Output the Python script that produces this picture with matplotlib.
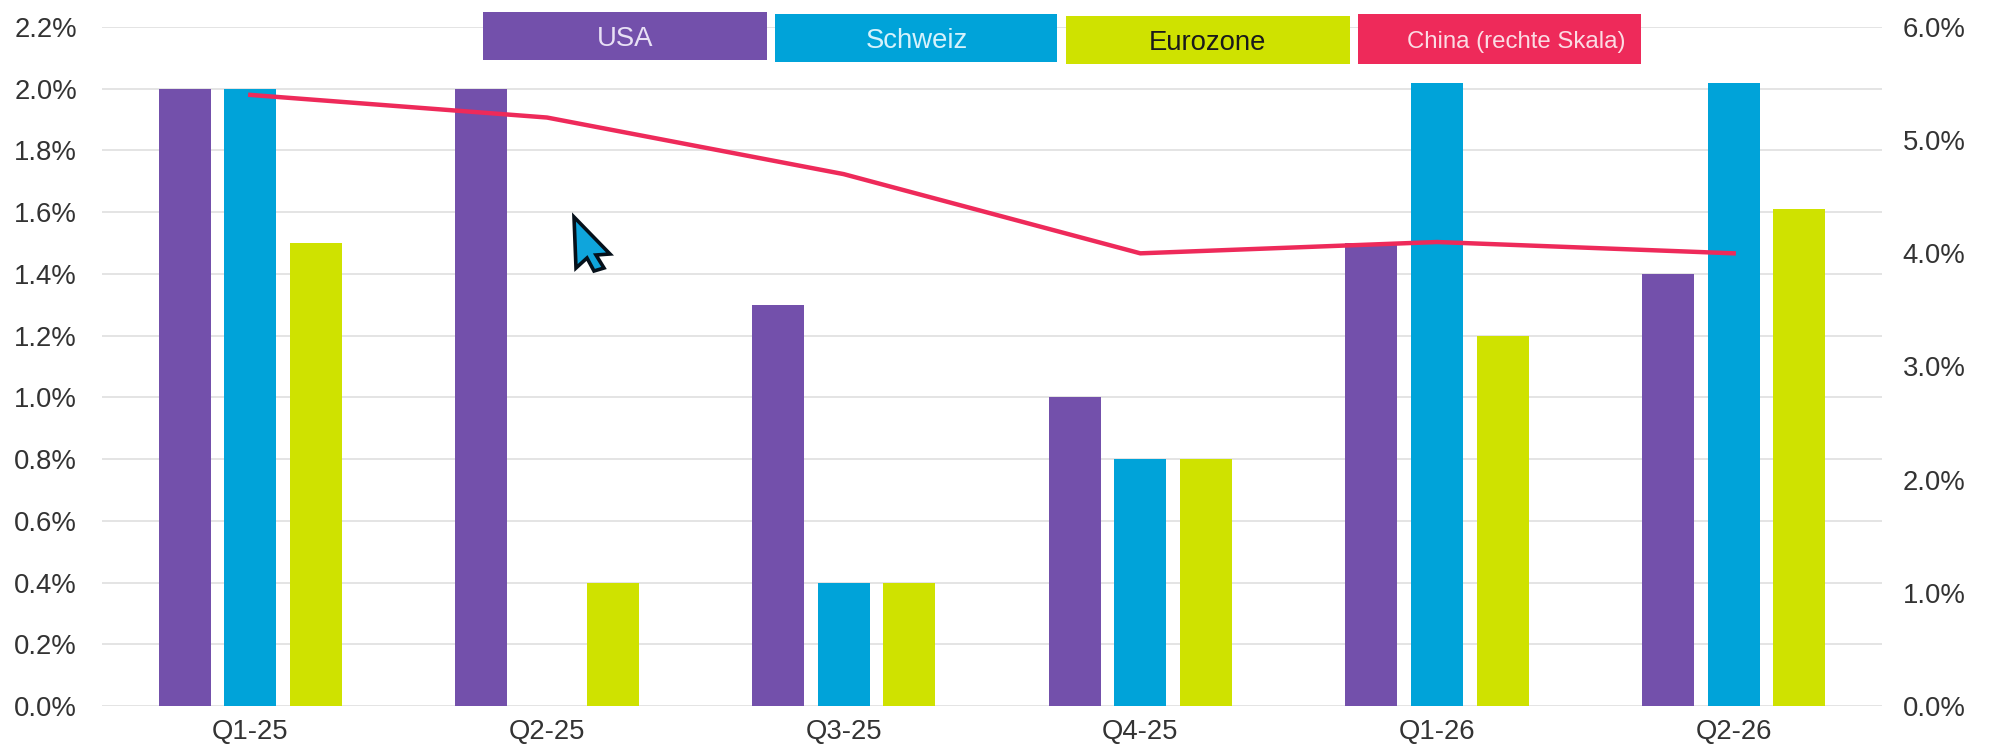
import numpy as np
import matplotlib
matplotlib.use('Agg')
import matplotlib.pyplot as plt
from matplotlib.patches import Rectangle, Polygon

plt.rcParams['font.family'] = ['Liberation Sans', 'DejaVu Sans']

# Datos
quarters = ['Q1-25', 'Q2-25', 'Q3-25', 'Q4-25', 'Q1-26', 'Q2-26']
usa = [2.0, 2.0, 1.3, 1.0, 1.5, 1.4]
schweiz = [2.0, 0.0, 0.4, 0.8, 2.02, 2.02]
eurozone = [1.5, 0.4, 0.4, 0.8, 1.2, 1.61]
china = [5.4, 5.2, 4.7, 4.0, 4.1, 4.0]
left_ticks = [0.0, 0.2, 0.4, 0.6, 0.8, 1.0, 1.2, 1.4, 1.6, 1.8, 2.0, 2.2]
right_ticks = [0.0, 1.0, 2.0, 3.0, 4.0, 5.0, 6.0]

PURPLE = '#7350AB'
BLUE = '#00A3D9'
YELLOW = '#CFE200'
RED = '#EE2A5A'
TEXT = '#333333'
W, H = 1990, 754
FS = 19.8

fig = plt.figure(figsize=(W / 100, H / 100), dpi=100)
ax = fig.add_axes([102 / W, (H - 706) / H, 1780 / W, 679 / H])

x = np.arange(len(quarters))
bar_w = 0.175
step = 0.221
ax.bar(x - step, usa, bar_w, color=PURPLE, zorder=3)
ax.bar(x, schweiz, bar_w, color=BLUE, zorder=3)
ax.bar(x + step, eurozone, bar_w, color=YELLOW, zorder=3)

ax.set_xlim(-0.5, 5.5)
ax.set_ylim(0, 2.2)
ax.set_yticks(left_ticks)
ax.set_yticklabels([f'{v:.1f}%' for v in left_ticks])
ax.set_xticks(x)
ax.set_xticklabels(quarters)
ax.grid(axis='y', color='#E4E4E4', linewidth=1.4, zorder=0)
ax.set_axisbelow(True)
ax.tick_params(axis='y', length=0, pad=18, labelsize=FS, labelcolor=TEXT)
ax.tick_params(axis='x', length=0, pad=9, labelsize=FS, labelcolor=TEXT)
for s in ax.spines.values():
    s.set_visible(False)

# Eje derecho para China
ax2 = ax.twinx()
ax2.plot(x, china, color=RED, linewidth=3.2, zorder=5)
ax2.set_ylim(0, 6)
ax2.set_yticks(right_ticks)
ax2.set_yticklabels([f'{v:.1f}%' for v in right_ticks])
ax2.tick_params(axis='y', length=0, pad=15, labelsize=FS, labelcolor=TEXT)
for s in ax2.spines.values():
    s.set_visible(False)

# Capa en pixeles para la leyenda y el cursor
over = fig.add_axes([0, 0, 1, 1])
over.set_xlim(0, W)
over.set_ylim(H, 0)
over.axis('off')

legend_names = ['USA', 'Schweiz', 'Eurozone', 'China (rechte Skala)']
legend_colors = [PURPLE, BLUE, YELLOW, RED]
legend_text = ['#E8E0F5', '#D5F2FC', '#1A1A1A', '#FBDCE4']
legend_x = [(483, 767), (775, 1057), (1066, 1350), (1358, 1641)]
legend_y = [(12, 60), (14, 62), (16, 64), (14, 64)]
legend_size = [FS, FS, FS, 17.3]
legend_dx = [0, 1, -1, 17]
for name, col, tc, (x0, x1), (y0, y1), fs, dx in zip(legend_names, legend_colors, legend_text, legend_x, legend_y, legend_size, legend_dx):
    over.add_patch(Rectangle((x0, y0), x1 - x0, y1 - y0, facecolor=col, edgecolor='none'))
    over.text((x0 + x1) / 2 + dx, (y0 + y1) / 2 + 3, name, color=tc, fontsize=fs, ha='center', va='center')

cursor = [(574, 217), (610, 254), (596, 255), (604, 268), (594, 271), (587, 258), (576, 268)]
over.add_patch(Polygon(cursor, closed=True, facecolor='#0FA5DC', edgecolor='#05101A', linewidth=2.6))

fig.savefig('out.png', dpi=100)
